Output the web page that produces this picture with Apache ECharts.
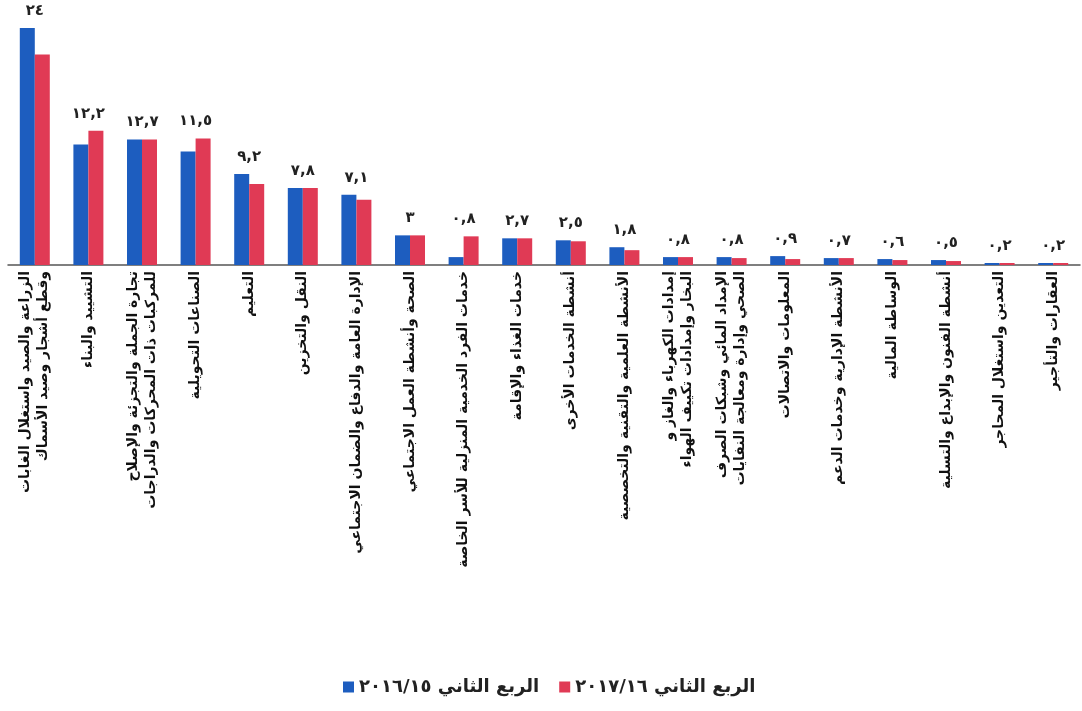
<!DOCTYPE html>
<html>
<head>
<meta charset="utf-8">
<script src="https://cdn.jsdelivr.net/npm/echarts@6/dist/echarts.min.js"></script>
<style>
  html, body { margin: 0; padding: 0; background: #fff; }
  #chart { width: 1082px; height: 711px; }
</style>
</head>
<body>
<div id="chart"></div>
<script>
// categories (activity)
var categories = [
    'الزراعة والصيد واستغلال الغابات\nوقطع أشجار وصيد الأسماك',
    'التشييد والبناء',
    'تجارة الجملة والتجزئة والإصلاح\nللمركبات ذات المحركات والدراجات',
    'الصناعات التحويلية',
    'التعليم',
    'النقل والتخزين',
    'الإدارة العامة والدفاع والضمان الاجتماعي',
    'الصحة وأنشطة العمل الاجتماعي',
    'خدمات الفرد الخدمية المنزلية للأسر الخاصة',
    'خدمات الغذاء والإقامة',
    'أنشطة الخدمات الأخرى',
    'الأنشطة العلمية والتقنية والتخصصية',
    'إمدادات الكهرباء والغاز و\nالبخار وإمدادات تكييف الهواء',
    'الإمداد المائي وشبكات الصرف\nالصحي وإدارة ومعالجة النفايات',
    'المعلومات والاتصالات',
    'الأنشطة الإدارية وخدمات الدعم',
    'الوساطة المالية',
    'أنشطة الفنون والإبداع والتسلية',
    'التعدين واستغلال المحاجر',
    'العقارات والتأجير'
];
var seriesNames = ['الربع الثاني ٢٠١٦/١٥', 'الربع الثاني ٢٠١٧/١٦'];
var q2_2015_16 = [24, 12.2, 12.7, 11.5, 9.2, 7.8, 7.1, 3, 0.8, 2.7, 2.5, 1.8, 0.8, 0.8, 0.9, 0.7, 0.6, 0.5, 0.2, 0.2];
var q2_2016_17 = [21.3, 13.6, 12.7, 12.8, 8.2, 7.8, 6.6, 3, 2.9, 2.7, 2.4, 1.5, 0.8, 0.7, 0.6, 0.7, 0.5, 0.4, 0.2, 0.2];

var arDigits = '٠١٢٣٤٥٦٧٨٩';
function toArabic(v) {
    return String(v).replace(/[0-9]/g, function (d) { return arDigits[+d]; }).replace('.', ',');
}

// label anchor = top of the taller bar of each pair
var labelTop = [];
for (var i = 0; i < q2_2015_16.length; i++) {
    labelTop.push(Math.max(q2_2015_16[i], q2_2016_17[i]));
}

var myChart = echarts.init(document.getElementById('chart'));
var option = {
    backgroundColor: '#ffffff',
    animation: false,
    textStyle: { fontFamily: 'DejaVu Sans' },
    legend: {
        data: seriesNames,
        bottom: 10,
        left: 338,
        icon: 'rect',
        itemWidth: 11,
        itemHeight: 11,
        itemGap: 20,
        textStyle: { fontSize: 18, fontWeight: 'bold', color: '#222', fontFamily: 'DejaVu Sans' }
    },
    grid: {
        left: 8,
        right: 2,
        top: 18,
        bottom: 446
    },
    xAxis: {
        type: 'category',
        data: categories,
        axisLine: { lineStyle: { color: '#555', width: 1.5 } },
        axisTick: { show: false },
        axisLabel: {
            rotate: 90,
            interval: 0,
            margin: 6,
            fontSize: 14,
            fontWeight: 'bold',
            lineHeight: 18,
            color: '#111',
            fontFamily: 'DejaVu Sans'
        }
    },
    yAxis: {
        type: 'value',
        min: 0,
        max: 25,
        show: false,
        splitLine: { show: false }
    },
    series: [
        {
            name: seriesNames[0],
            type: 'bar',
            data: q2_2015_16,
            barWidth: 15,
            barGap: '0%',
            itemStyle: { color: '#1d5dbf' }
        },
        {
            name: seriesNames[1],
            type: 'bar',
            data: q2_2016_17,
            barWidth: 15,
            itemStyle: { color: '#e03a55' }
        },
        {
            name: 'labels',
            type: 'line',
            data: labelTop,
            symbol: 'circle',
            symbolSize: 1,
            silent: true,
            itemStyle: { color: 'rgba(0,0,0,0)' },
            lineStyle: { opacity: 0 },
            label: {
                show: true,
                position: 'top',
                distance: 9,
                fontSize: 15,
                fontWeight: 'bold',
                color: '#222',
                fontFamily: 'DejaVu Sans',
                formatter: function (p) { return toArabic(q2_2015_16[p.dataIndex]); }
            }
        }
    ]
};
myChart.setOption(option);
</script>
</body>
</html>
